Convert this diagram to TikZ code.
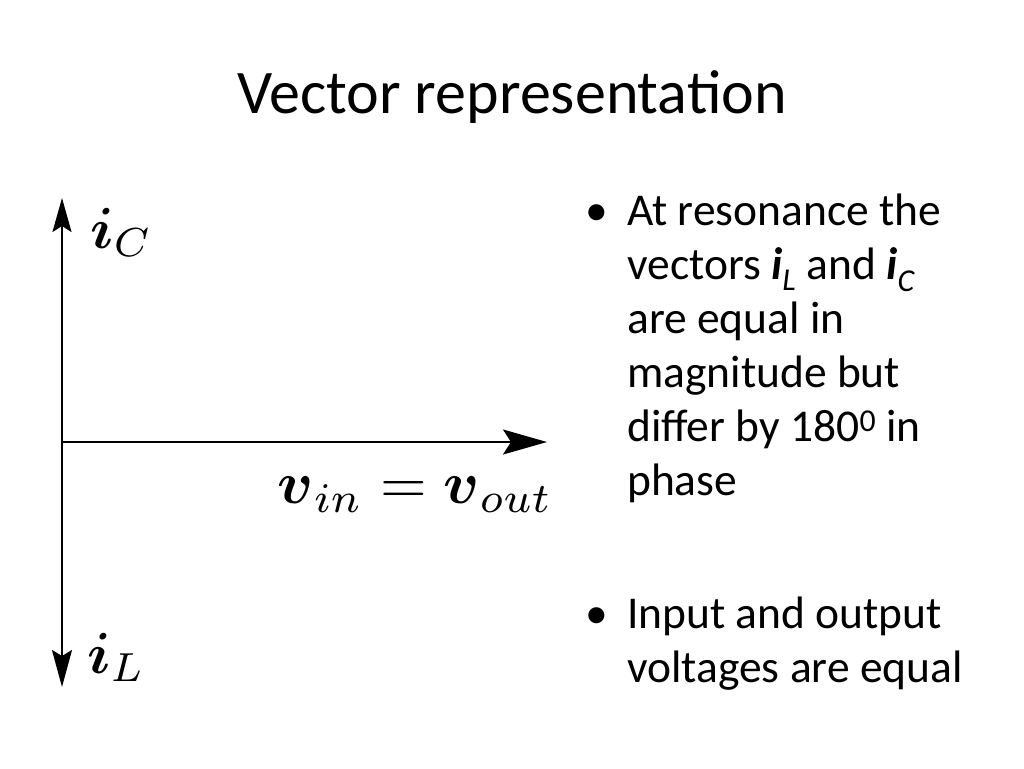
\documentclass[tikz,border=0pt]{standalone}
\usepackage{amsmath,amssymb}
\usepackage{graphicx}
\usepackage{fontspec}
\setmainfont{Carlito}
\usetikzlibrary{arrows.meta}
\newcommand{\biglbl}[2][5.8]{\scalebox{#1}{\fontsize{10}{12}\selectfont$#2$}}
\tikzset{
  vec/.style={line width=2pt},
  title/.style={font=\fontsize{62}{70}\selectfont, anchor=base},
  mathlbl/.style={inner sep=0pt},
  bullettext/.style={font=\fontsize{45.5}{54}\selectfont, anchor=base west, inner sep=0pt},
  bulletdot/.style={font=\fontsize{45.5}{54}\selectfont, anchor=base, inner sep=0pt}
}
\begin{document}
\begin{tikzpicture}[x=1pt,y=-1pt]
\useasboundingbox[fill=white] (0,0) rectangle (1024,768);
\node[title] (title) at (512,113) {Vector representation};
% vectors
\coordinate (O) at (62,442);
\coordinate (top) at (62,198);
\coordinate (bot) at (62,687);
\coordinate (right) at (547,442);
\draw[vec, -{Stealth[inset=6pt, length=34pt, width=19pt]}] (O) -- (top);
\draw[vec, -{Stealth[inset=6pt, length=37pt, width=20pt]}] (O) -- (bot);
\draw[vec, -{Stealth[inset=8pt, length=44pt, width=25pt]}] (O) -- (right);
\node[mathlbl, anchor=base west] (iC) at (90,248) {\biglbl{\boldsymbol{i}_C}};
\node[mathlbl, anchor=base west] (iL) at (87,673) {\biglbl{\boldsymbol{i}_L}};
\node[mathlbl, anchor=base east] (v) at (553,503) {\biglbl[6.0]{\boldsymbol{v}_{in}=\boldsymbol{v}_{out}}};
% bullets
\node[bulletdot] (b1) at (597,225) {•};
\node[bullettext] (t1) at (627,225) {\parbox[t]{400pt}{\raggedright
At resonance the\\
vectors \textbf{\textit{i}}\textsubscript{\textit{L}} and \textbf{\textit{i}}\textsubscript{\textit{C}}\\
are equal in\\
magnitude but\\
differ by 180\textsuperscript{0} in\\
phase}};
\node[bulletdot] (b2) at (597,628) {•};
\node[bullettext] (t2) at (627,628) {\parbox[t]{400pt}{\raggedright
Input and output\\
voltages are equal}};
\end{tikzpicture}
\end{document}
